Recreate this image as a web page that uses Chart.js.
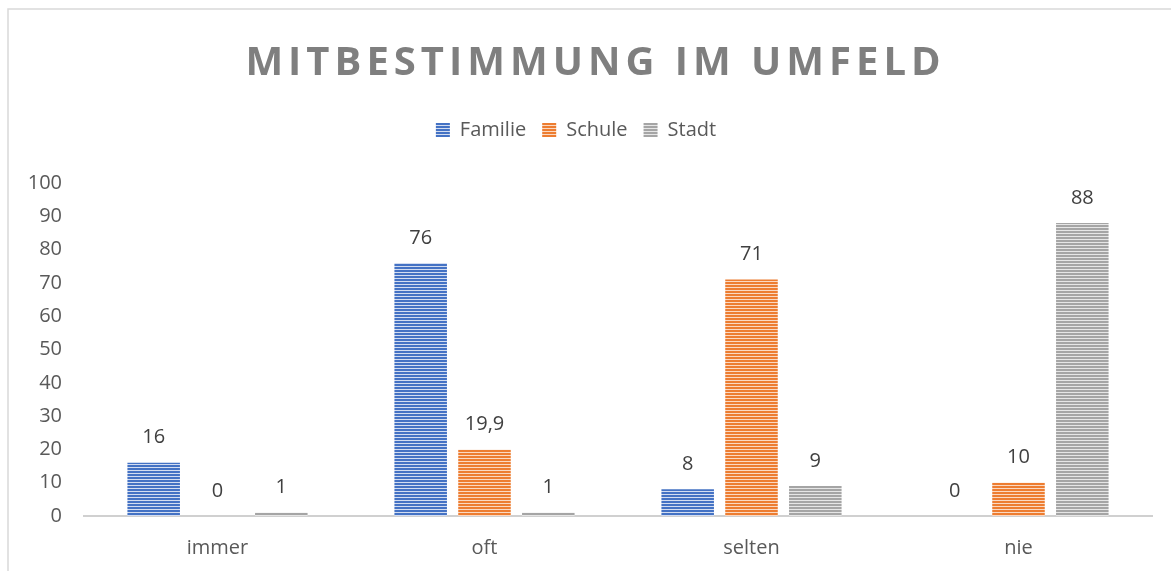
<!DOCTYPE html>
<html>
<head>
<meta charset="utf-8">
<script src="https://cdn.jsdelivr.net/npm/chart.js@4.4.1/dist/chart.umd.min.js"></script>
<style>
  html, body { margin: 0; padding: 0; background: #ffffff; }
  #wrap { position: relative; width: 1171px; height: 571px; }
</style>
</head>
<body>
<div id="wrap"><canvas id="c" width="1171" height="571"></canvas></div>
<script>
const titleText = 'MITBESTIMMUNG IM UMFELD';
const categories = ['immer', 'oft', 'selten', 'nie'];
const seriesNames = ['Familie', 'Schule', 'Stadt'];
const familie = [16, 76, 8, 0];
const schule = [0, 19.9, 71, 10];
const stadt = [1, 1, 9, 88];
const yTicks = [0, 10, 20, 30, 40, 50, 60, 70, 80, 90, 100];

const FONT = "'Open Sans', 'Noto Sans', sans-serif";

function stripePattern(dark, light) {
  const pc = document.createElement('canvas');
  pc.width = 4; pc.height = 3;
  const g = pc.getContext('2d');
  g.fillStyle = dark; g.fillRect(0, 0, 4, 2);
  g.fillStyle = light; g.fillRect(0, 2, 4, 1);
  return document.getElementById('c').getContext('2d').createPattern(pc, 'repeat');
}
const fills = [
  stripePattern('#4472C4', '#d3ddf1'),
  stripePattern('#ED7D31', '#fbd9c2'),
  stripePattern('#A5A5A5', '#e6e6e6')
];

const frameAndTitle = {
  id: 'frameAndTitle',
  afterInit(chart) {
    const lg = chart.legend;
    if (lg && !lg._wrapped) {
      const orig = lg.fit;
      lg.fit = function () { orig.apply(this, arguments); this.height += 33; };
      lg._wrapped = true;
    }
  },
  beforeDraw(chart) {
    const ctx = chart.ctx;
    ctx.save();
    ctx.fillStyle = '#ffffff';
    ctx.fillRect(0, 0, chart.width, chart.height);
    ctx.strokeStyle = '#d9d9d9';
    ctx.lineWidth = 1.5;
    ctx.beginPath();
    ctx.moveTo(8, chart.height);
    ctx.lineTo(8, 9);
    ctx.lineTo(chart.width, 9);
    ctx.stroke();
    ctx.restore();
  },
  afterDraw(chart) {
    const ctx = chart.ctx;
    ctx.save();
    ctx.font = 'bold 40px ' + FONT;
    ctx.fillStyle = '#7f7f7f';
    ctx.textBaseline = 'alphabetic';
    ctx.textAlign = 'left';
    const sp = 5;
    ctx.letterSpacing = sp + 'px';
    const w = ctx.measureText(titleText).width - sp;
    ctx.fillText(titleText, 593 - w / 2, 75);
    ctx.restore();
  }
};

const valueLabels = {
  id: 'valueLabels',
  afterDatasetsDraw(chart) {
    const ctx = chart.ctx;
    ctx.save();
    ctx.font = '20px ' + FONT;
    ctx.fillStyle = '#404040';
    ctx.textAlign = 'center';
    ctx.textBaseline = 'middle';
    chart.data.datasets.forEach((ds, i) => {
      const meta = chart.getDatasetMeta(i);
      meta.data.forEach((bar, j) => {
        const v = ds.data[j];
        ctx.fillText(String(v).replace('.', ','), bar.x, bar.y - 25);
      });
    });
    ctx.restore();
  }
};

new Chart(document.getElementById('c'), {
  type: 'bar',
  data: {
    labels: categories,
    datasets: [
      { label: seriesNames[0], data: familie, backgroundColor: fills[0], borderWidth: 0 },
      { label: seriesNames[1], data: schule, backgroundColor: fills[1], borderWidth: 0 },
      { label: seriesNames[2], data: stadt, backgroundColor: fills[2], borderWidth: 0 }
    ]
  },
  options: {
    responsive: false,
    animation: false,
    devicePixelRatio: 1,
    categoryPercentage: 0.717,
    barPercentage: 0.823,
    layout: { padding: { top: 104, right: 19, bottom: 12, left: 0 } },
    plugins: {
      title: { display: false },
      tooltip: { enabled: false },
      legend: {
        position: 'top',
        labels: {
          font: { size: 20, family: FONT },
          color: '#595959',
          boxWidth: 14,
          boxHeight: 14,
          padding: 16
        }
      }
    },
    scales: {
      x: {
        afterFit(scale) { scale.height = 43; },
        grid: { display: false, drawTicks: false },
        border: { display: true, color: '#d0d0d0', width: 2 },
        ticks: { font: { size: 20, family: FONT }, color: '#595959', padding: 20 }
      },
      y: {
        min: 0,
        max: 100,
        afterFit(scale) { scale.width = 84; },
        afterBuildTicks(scale) { scale.ticks = yTicks.map(v => ({ value: v })); },
        grid: { display: false, drawTicks: false },
        border: { display: false },
        ticks: { font: { size: 20, family: FONT }, color: '#595959', padding: 22 }
      }
    }
  },
  plugins: [frameAndTitle, valueLabels]
});
</script>
</body>
</html>
